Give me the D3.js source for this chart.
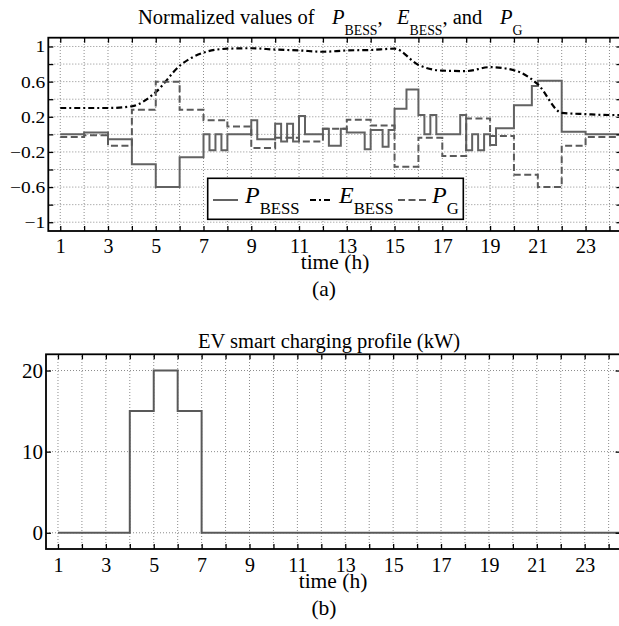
<!DOCTYPE html>
<html>
<head>
<meta charset="utf-8">
<script src="https://cdn.jsdelivr.net/npm/d3@7"></script>
<style>
  body { margin: 0; background: #fff; }
  svg, svg text, svg tspan { font-family: "Liberation Serif", "Times New Roman", Times, "DejaVu Serif", serif !important; }
  svg text { fill: #000; }
</style>
</head>
<body>
<svg id="fig" width="619" height="626" font-family="Liberation Serif, Times New Roman, serif"></svg>
<script>
// ---- (a) normalized BESS / grid values ----
// P_BESS: step signal, value holds from each start hour until the next one
const pBessStart = [1, 2, 3, 4, 5, 6, 7, 7.25, 7.5, 7.75, 8, 9, 9.25, 10, 10.25, 10.5, 10.75,
  11, 11.25, 12, 12.25, 12.75, 13, 13.75, 14, 14.5, 14.75, 15, 15.5, 16, 16.25, 16.5, 16.75,
  17.75, 18, 18.25, 18.5, 18.75, 19, 19.25, 20, 20.75, 21, 22, 23];
const pBessValue = [0, 0.02, -0.055, -0.34, -0.6, -0.26, 0, -0.18, 0, -0.18, 0, 0.16, -0.055, 0.12, -0.08, 0.12, -0.08,
  0.21, 0, 0.065, -0.13, 0.065, 0.02, -0.17, 0.05, -0.14, 0.05, 0.29, 0.51, 0.22, 0, 0.22, 0,
  0.22, -0.18, 0, -0.18, 0, -0.12, 0.07, 0.33, 0.55, 0.61, 0.03, 0];

// P_G: hourly steps starting at hours 1..23
const pGridStart = d3.range(1, 24);
const pGridValue = [-0.03, -0.01, -0.13, 0.28, 0.60, 0.28, 0.16, 0.09, -0.155, -0.04, -0.08, 0.065,
  0.165, 0.10, -0.37, -0.04, -0.245, 0.18, -0.02, -0.46, -0.60, -0.13, -0.03];

// E_BESS: state of energy at each hour 1..24
const eBessHour = d3.range(1, 25);
const eBessValue = [0.30, 0.30, 0.30, 0.32, 0.48, 0.78, 0.93, 0.975, 0.98, 0.965, 0.955, 0.94,
  0.955, 0.96, 0.975, 0.79, 0.725, 0.72, 0.765, 0.73, 0.57, 0.245, 0.23, 0.22];

// ---- (b) EV smart charging profile (kW) ----
const evStart = [1, 4, 5, 6, 7];
const evValue = [0, 15, 20, 15, 0];

const hourTicks = d3.range(1, 25);
const normTicks = d3.range(-5, 6).map(i => +(i * 0.2).toFixed(1));
const normLabels = [1, 0.6, 0.2, -0.2, -0.6, -1];
const evTicks = [0, 10, 20];

const SERIF = '"Liberation Serif", "Times New Roman", Times, "DejaVu Serif", serif';
const svg = d3.select("#fig");
const X_END = 24.5;

function stepPoints(starts, values) {
  const pts = starts.map((s, i) => [s, values[i]]);
  pts.push([X_END, values[values.length - 1]]);
  return pts;
}

function drawGrid(g, x, y, xVals, yVals) {
  const [x0, x1] = x.range();
  const [y0, y1] = y.range();
  const grid = g.append("g").attr("stroke", "#8c8c8c").attr("stroke-width", 1)
    .attr("stroke-dasharray", "1,2").attr("fill", "none");
  grid.selectAll(".gx").data(xVals).join("line")
    .attr("x1", d => x(d)).attr("x2", d => x(d)).attr("y1", y0).attr("y2", y1);
  grid.selectAll(".gy").data(yVals).join("line")
    .attr("x1", x0).attr("x2", x1).attr("y1", d => y(d)).attr("y2", d => y(d));
}

function drawFrame(g, x, y, yTickVals, xFont, xPad, yFont, yFmt, yTextTransform) {
  const [x0, x1] = x.range();
  const [y0, y1] = y.range();
  const tickStyle = sel => {
    sel.attr("font-family", SERIF);
    sel.select(".domain").remove();
    sel.selectAll(".tick line").attr("stroke", "#000").attr("stroke-width", 1.3);
  };
  const bottom = g.append("g").attr("transform", `translate(0,${y0})`)
    .call(d3.axisBottom(x).tickValues(hourTicks).tickSize(-5).tickSizeOuter(0).tickPadding(xPad)
      .tickFormat(d => (d % 2 === 1 ? d : "")));
  bottom.call(tickStyle);
  bottom.selectAll("text").attr("font-size", xFont);
  g.append("g").attr("transform", `translate(0,${y1})`)
    .call(d3.axisTop(x).tickValues(hourTicks).tickSize(-5).tickSizeOuter(0).tickFormat(""))
    .call(tickStyle);
  const left = g.append("g").attr("transform", `translate(${x0},0)`)
    .call(d3.axisLeft(y).tickValues(yTickVals).tickSize(-5).tickSizeOuter(0).tickPadding(3)
      .tickFormat(yFmt));
  left.call(tickStyle);
  left.selectAll("text").attr("font-size", yFont);
  if (yTextTransform) left.selectAll("text").attr("transform", yTextTransform);
  g.append("g").attr("transform", `translate(${x1},0)`)
    .call(d3.axisRight(y).tickValues(yTickVals).tickSize(-5).tickSizeOuter(0).tickFormat(""))
    .call(tickStyle);
  g.append("rect").attr("x", x0).attr("y", y1).attr("width", x1 - x0).attr("height", y0 - y1)
    .attr("fill", "none").attr("stroke", "#000").attr("stroke-width", 1.8);
}

// ===================== panel (a) =====================
const xa = d3.scaleLinear([0.5, X_END], [48.3, 621.4]);
const ya = d3.scaleLinear([-1.1, 1.1], [231, 37.7]);
const ga = svg.append("g");

drawGrid(ga, xa, ya, hourTicks, normTicks);

svg.append("clipPath").attr("id", "clipA").append("rect")
  .attr("x", xa.range()[0]).attr("y", ya.range()[1])
  .attr("width", xa.range()[1] - xa.range()[0]).attr("height", ya.range()[0] - ya.range()[1]);

const stepLine = d3.line().x(d => xa(d[0])).y(d => ya(d[1])).curve(d3.curveStepAfter);
const smoothLine = d3.line().x(d => xa(d[0])).y(d => ya(d[1])).curve(d3.curveMonotoneX);

const lines = ga.append("g").attr("clip-path", "url(#clipA)").attr("fill", "none");
lines.append("path")
  .attr("d", stepLine(stepPoints(pBessStart, pBessValue)))
  .attr("stroke", "#626262").attr("stroke-width", 2);
const ePts = eBessHour.map((h, i) => [h, eBessValue[i]]);
ePts.push([X_END, eBessValue[eBessValue.length - 1]]);
lines.append("path")
  .attr("d", smoothLine(ePts))
  .attr("stroke", "#000").attr("stroke-width", 2.2).attr("stroke-dasharray", "6,3,2,3");
lines.append("path")
  .attr("d", stepLine(stepPoints(pGridStart, pGridValue)))
  .attr("stroke", "#5a5a5a").attr("stroke-width", 2).attr("stroke-dasharray", "7,3.5");

const fmtNorm = d => normLabels.includes(d)
  ? (Number.isInteger(d) ? d3.format("d")(d) : d3.format(".1f")(d)) : "";
drawFrame(ga, xa, ya, normTicks, 20, 7.8, 19.5, fmtNorm, "scale(1,0.88)");

// legend
const leg = ga.append("g");
leg.append("rect").attr("x", 207.7).attr("y", 178.3).attr("width", 255.6).attr("height", 41)
  .attr("fill", "#fff").attr("stroke", "#000").attr("stroke-width", 1.6);
const legItems = [
  { x1: 213, x2: 238, tx: 245, main: "P", sub: "BESS", stroke: "#626262", dash: null, w: 2 },
  { x1: 310, x2: 332, tx: 339, main: "E", sub: "BESS", stroke: "#000", dash: "6,3,2,3", w: 2.2 },
  { x1: 398, x2: 427, tx: 432, main: "P", sub: "G", stroke: "#5a5a5a", dash: "7,3.5", w: 2 }
];
legItems.forEach(it => {
  leg.append("line").attr("x1", it.x1).attr("x2", it.x2).attr("y1", 200).attr("y2", 200)
    .attr("stroke", it.stroke).attr("stroke-width", it.w).attr("stroke-dasharray", it.dash);
  const t = leg.append("text").attr("x", it.tx).attr("y", 202.5).attr("font-size", 24);
  t.append("tspan").attr("font-style", "italic").text(it.main);
  t.append("tspan").attr("dy", 11).attr("font-size", 16.7).text(it.sub);
});

// title (a)
const ta = svg.append("text").attr("y", 23.5).attr("font-size", 20.5);
ta.append("tspan").attr("x", 138).text("Normalized values of");
ta.append("tspan").attr("x", 332).attr("font-style", "italic").text("P");
ta.append("tspan").attr("dy", 11).attr("font-size", 13.8).text("BESS");
ta.append("tspan").attr("dy", -11).text(",");
ta.append("tspan").attr("x", 397).attr("font-style", "italic").text("E");
ta.append("tspan").attr("dy", 11).attr("font-size", 13.8).text("BESS");
ta.append("tspan").attr("dy", -11).text(", and");
ta.append("tspan").attr("x", 500).attr("font-style", "italic").text("P");
ta.append("tspan").attr("dy", 11).attr("font-size", 13.8).text("G");

svg.append("text").attr("x", 335).attr("y", 268.5).attr("text-anchor", "middle")
  .attr("font-size", 21.5).text("time (h)");
svg.append("text").attr("x", 324).attr("y", 296).attr("text-anchor", "middle")
  .attr("font-size", 21.5).text("(a)");

// ===================== panel (b) =====================
const xb = d3.scaleLinear([0.5, X_END], [46, 620.6]);
const yb = d3.scaleLinear([-2, 22], [549, 354.3]);
const gb = svg.append("g");

drawGrid(gb, xb, yb, hourTicks, evTicks);

svg.append("clipPath").attr("id", "clipB").append("rect")
  .attr("x", xb.range()[0]).attr("y", yb.range()[1])
  .attr("width", xb.range()[1] - xb.range()[0]).attr("height", yb.range()[0] - yb.range()[1]);

const evLine = d3.line().x(d => xb(d[0])).y(d => yb(d[1])).curve(d3.curveStepAfter);
gb.append("path").attr("clip-path", "url(#clipB)")
  .attr("d", evLine(stepPoints(evStart, evValue)))
  .attr("fill", "none").attr("stroke", "#595959").attr("stroke-width", 2);

drawFrame(gb, xb, yb, evTicks, 20, 8.5, 21, d3.format("d"), null);

svg.append("text").attr("x", 329).attr("y", 348).attr("text-anchor", "middle")
  .attr("font-size", 20.5).text("EV smart charging profile (kW)");
svg.append("text").attr("x", 333).attr("y", 588).attr("text-anchor", "middle")
  .attr("font-size", 21.5).text("time (h)");
svg.append("text").attr("x", 324).attr("y", 615).attr("text-anchor", "middle")
  .attr("font-size", 21.5).text("(b)");

svg.selectAll("text").attr("font-family", SERIF);
</script>
</body>
</html>
